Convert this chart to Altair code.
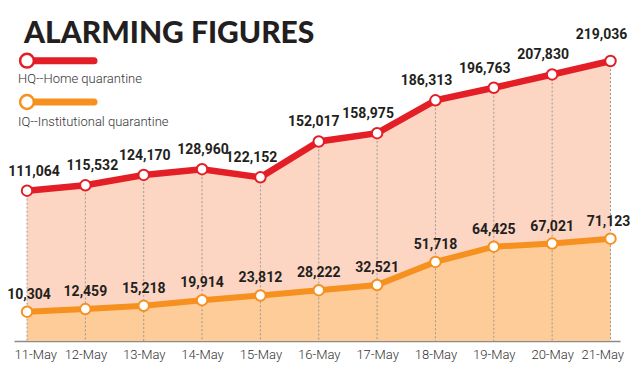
import json
import altair as alt
import pandas as pd

# ---- data ----
dates = ["11-May", "12-May", "13-May", "14-May", "15-May", "16-May",
         "17-May", "18-May", "19-May", "20-May", "21-May"]
hq = [111064, 115532, 124170, 128960, 122152, 152017,
      158975, 186313, 196763, 207830, 219036]
iq = [10304, 12459, 15218, 19914, 23812, 28222,
      32521, 51718, 64425, 67021, 71123]
series_names = ["HQ--Home quarantine", "IQ--Institutional quarantine"]
title_text = "ALARMING FIGURES"

# ---- styling ----
RED = "#e31e26"
ORANGE = "#f6901e"
PINK_FILL = "#fdd5c3"
ORANGE_FILL = "#fdcc98"
TEXT = "#231f20"
W, H = 624, 333
Y_MIN, Y_MAX = -14090, 263162

df = pd.DataFrame({"i": list(range(len(dates))), "date": dates, "hq": hq, "iq": iq})

label_expr = json.dumps(dates) + "[datum.value]"
x_enc = alt.X(
    "i:Q",
    scale=alt.Scale(domain=[-0.223, 10.163], range=[6, 612], nice=False, zero=False),
    axis=alt.Axis(
        values=list(range(len(dates))), labelExpr=label_expr, grid=False, ticks=False,
        domainColor="#8c8c8c", domainWidth=1.5, labelFont="Roboto", labelFontWeight=300,
        labelFontSize=13, labelColor="#333333", labelPadding=7, title=None,
        labelFlush=15, labelFlushOffset=13,
    ),
)
y_scale = alt.Scale(domain=[Y_MIN, Y_MAX], nice=False, zero=False)


def yenc(field):
    return alt.Y(f"{field}:Q", scale=y_scale, axis=None)


base = alt.Chart(df)

area_hq = base.mark_area(color=PINK_FILL).encode(x=x_enc, y=yenc("hq"), y2=alt.datum(Y_MIN))
area_iq = base.mark_area(color=ORANGE_FILL).encode(x=x_enc, y=yenc("iq"), y2=alt.datum(Y_MIN))
grid = base.mark_rule(color="#9a9a9a", strokeDash=[2, 2], strokeWidth=1).encode(
    x=x_enc, y=yenc("hq"), y2=alt.datum(Y_MIN))

line_hq = base.mark_line(color=RED, strokeWidth=6.5).encode(x=x_enc, y=yenc("hq"))
line_iq = base.mark_line(color=ORANGE, strokeWidth=6).encode(x=x_enc, y=yenc("iq"))
pts_hq = base.mark_circle(fill="white", stroke=RED, strokeWidth=2, size=110, opacity=1).encode(
    x=x_enc, y=yenc("hq"))
pts_iq = base.mark_circle(fill="white", stroke=ORANGE, strokeWidth=2, size=110, opacity=1).encode(
    x=x_enc, y=yenc("iq"))

txt_style = dict(font="Roboto", fontWeight="bold", fontSize=14, color=TEXT, baseline="alphabetic")
lab_hq = base.mark_text(
    dx=alt.expr("datum.i <= 1 ? 7 : datum.i <= 3 ? 1 : datum.i == 5 ? -5 : -9"),
    dy=alt.expr("datum.i == 10 ? -22 : -15"),
    **txt_style,
).encode(x=x_enc, y=yenc("hq"), text=alt.Text("hq:Q", format=","))
lab_iq = base.mark_text(
    dx=alt.expr("datum.i == 0 ? 2 : datum.i == 10 ? -2 : 0"),
    dy=-13,
    **txt_style,
).encode(x=x_enc, y=yenc("iq"), text=alt.Text("iq:Q", format=","))

title = alt.Chart(pd.DataFrame({"t": [title_text]})).mark_text(
    align="left", baseline="alphabetic", font="Lato", fontWeight=900, fontSize=30, color=TEXT
).encode(x=alt.value(16), y=alt.value(35), text="t:N")

legend_layers = []
for name, col, ly, ty in [(series_names[0], RED, 52.7, 75), (series_names[1], ORANGE, 94, 118)]:
    ldf = pd.DataFrame({"t": [name]})
    legend_layers.append(alt.Chart(ldf).mark_rule(color=col, strokeWidth=7, strokeCap="round").encode(
        x=alt.value(19), x2=alt.value(86), y=alt.value(ly)))
    legend_layers.append(alt.Chart(ldf).mark_circle(fill="white", stroke=col, strokeWidth=2.5,
                                                    size=190, opacity=1).encode(
        x=alt.value(19), y=alt.value(ly)))
    legend_layers.append(alt.Chart(ldf).mark_text(
        align="left", baseline="alphabetic", font="Roboto", fontWeight=300, fontSize=13, color="#333333"
    ).encode(x=alt.value(10), y=alt.value(ty), text="t:N"))

chart = alt.layer(
    area_hq, area_iq, grid, line_hq, line_iq, pts_hq, pts_iq, lab_hq, lab_iq, title, *legend_layers
).properties(
    width=W, height=H,
    autosize=alt.AutoSizeParams(type="none"),
    padding={"left": 0, "top": 0, "right": 0, "bottom": 29},
    background="white",
).configure_view(stroke=None)

chart.save("out.html", embed_options={"renderer": "svg", "actions": False})
